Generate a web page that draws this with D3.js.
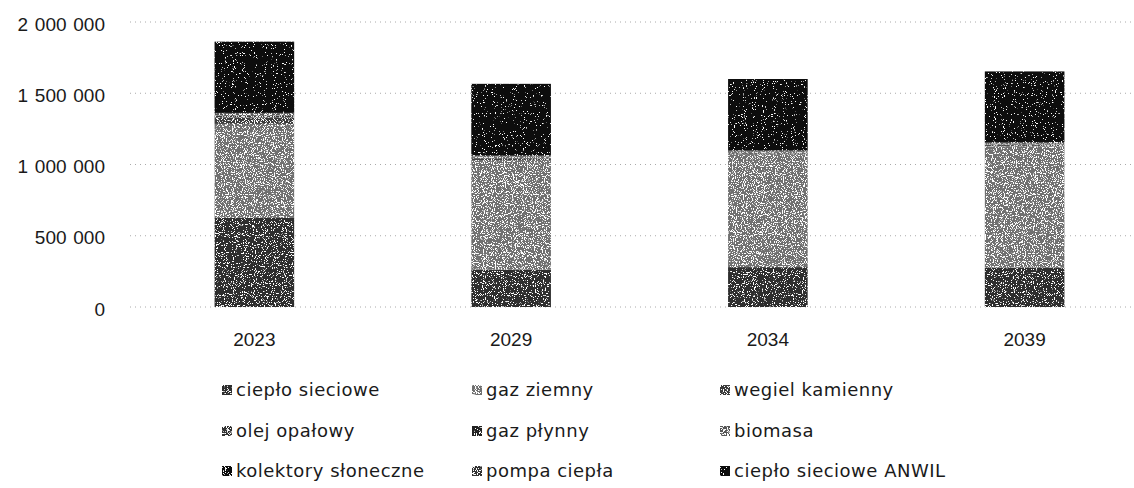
<!DOCTYPE html>
<html>
<head>
<meta charset="utf-8">
<script src="https://cdn.jsdelivr.net/npm/d3@7"></script>
<style>
  body { margin: 0; background: #fff; }
  text { fill: #1a1a1a; }
  .num { font-family: "Liberation Sans", Arial, sans-serif; font-size: 19px; word-spacing: 1.5px; }
  .leg { font-family: "DejaVu Sans", sans-serif; font-size: 18px; letter-spacing: 0.5px; }
</style>
</head>
<body>
<div id="chart"></div>
<script>
// Years on the x axis.
const years = ["2023", "2029", "2034", "2039"];

// Series (bottom to top of the stack), one value per year.
const seriesNames = ["ciepło sieciowe", "gaz ziemny", "wegiel kamienny",
                     "olej opałowy", "gaz płynny", "biomasa",
                     "kolektory słoneczne", "pompa ciepła", "ciepło sieciowe ANWIL"];
const cieploSieciowe   = [625000, 262000, 280000, 278000];
const gazZiemny        = [660000, 770000, 790000, 850000];
const wegielKamienny   = [45000, 10000, 8000, 8000];
const olejOpalowy      = [10000, 3000, 3000, 3000];
const gazPlynny        = [5000, 2000, 2000, 2000];
const biomasa          = [10000, 8000, 8000, 8000];
const kolektory        = [2000, 3000, 3000, 3000];
const pompaCiepla      = [5000, 8000, 6000, 6000];
const cieploAnwil      = [500000, 500000, 500000, 495000];
const seriesValues = [cieploSieciowe, gazZiemny, wegielKamienny, olejOpalowy,
                      gazPlynny, biomasa, kolektory, pompaCiepla, cieploAnwil];

// y ticks
const yTicks = [0, 500000, 1000000, 1500000, 2000000];

// Grey tones + speckle density for the scanned look
const tones = [
  { fill: "#2e2e2e", dens: 0.6 },
  { fill: "#707070", dens: 0.55 },
  { fill: "#3a3a3a", dens: 0.55 },
  { fill: "#333",    dens: 0.55 },
  { fill: "#222",    dens: 0.6 },
  { fill: "#555",    dens: 0.5 },
  { fill: "#111",    dens: 0.6 },
  { fill: "#333",    dens: 0.55 },
  { fill: "#0a0a0a", dens: 0.67 }
];

const W = 1134, H = 488;
const svg = d3.select("#chart").append("svg")
    .attr("width", W).attr("height", H);

const defs = svg.append("defs");
tones.forEach((t, i) => {
  const f = defs.append("filter").attr("id", "grain" + i)
      .attr("x", 0).attr("y", 0).attr("width", 1).attr("height", 1);
  f.append("feTurbulence").attr("type", "fractalNoise")
      .attr("baseFrequency", 0.9).attr("numOctaves", 2).attr("seed", i + 2).attr("result", "n");
  f.append("feColorMatrix").attr("in", "n").attr("type", "matrix")
      .attr("values", `0 0 0 0 1  0 0 0 0 1  0 0 0 0 1  18 0 0 0 ${-18 * t.dens}`)
      .attr("result", "w");
  f.append("feComposite").attr("in", "w").attr("in2", "SourceGraphic")
      .attr("operator", "in").attr("result", "s");
  const m = f.append("feMerge");
  m.append("feMergeNode").attr("in", "SourceGraphic");
  m.append("feMergeNode").attr("in", "s");
});

const x = d3.scaleBand().domain(years).range([126, 1153])
    .paddingInner(0.69).paddingOuter(0.345);
const y = d3.scaleLinear().domain([0, 2000000]).range([307, 22]);

const fmt = v => d3.format(",")(v).replace(/,/g, " ");

// gridlines
svg.append("g").selectAll("line").data(yTicks).join("line")
    .attr("x1", 130).attr("x2", W)
    .attr("y1", d => y(d)).attr("y2", d => y(d))
    .attr("stroke", "#aaa").attr("stroke-width", 1)
    .attr("stroke-dasharray", "1,4");

// y labels
svg.append("g").selectAll("text").data(yTicks).join("text")
    .attr("class", "num")
    .attr("x", 105).attr("y", d => y(d) + 2)
    .attr("dy", "0.35em").attr("text-anchor", "end")
    .text(fmt);

// stack
const table = years.map((yr, j) => {
  const row = { year: yr };
  seriesNames.forEach((s, i) => row[s] = seriesValues[i][j]);
  return row;
});
const stacked = d3.stack().keys(seriesNames)(table);

svg.append("g").selectAll("g").data(stacked).join("g")
    .attr("fill", (d, i) => tones[i].fill)
    .attr("filter", (d, i) => `url(#grain${i})`)
  .selectAll("rect").data(d => d).join("rect")
    .attr("x", d => x(d.data.year))
    .attr("width", x.bandwidth())
    .attr("y", d => y(d[1]))
    .attr("height", d => Math.max(0, y(d[0]) - y(d[1])));

// x labels
svg.append("g").selectAll("text").data(years).join("text")
    .attr("class", "num")
    .attr("x", d => x(d) + x.bandwidth() / 2).attr("y", 339)
    .attr("dy", "0.35em").attr("text-anchor", "middle")
    .text(d => d);

// legend, 3 columns
const legCols = [222, 472, 720];
const legRows = [390, 431, 471];
const leg = svg.append("g").selectAll("g").data(seriesNames).join("g")
    .attr("transform", (d, i) => `translate(${legCols[i % 3]},${legRows[Math.floor(i / 3)]})`);
leg.append("rect")
    .attr("x", 0).attr("y", -5).attr("width", 10).attr("height", 10)
    .attr("fill", (d, i) => tones[i].fill)
    .attr("filter", (d, i) => `url(#grain${i})`);
leg.append("text")
    .attr("class", "leg")
    .attr("x", 14).attr("dy", "0.35em")
    .text(d => d);
</script>
</body>
</html>
